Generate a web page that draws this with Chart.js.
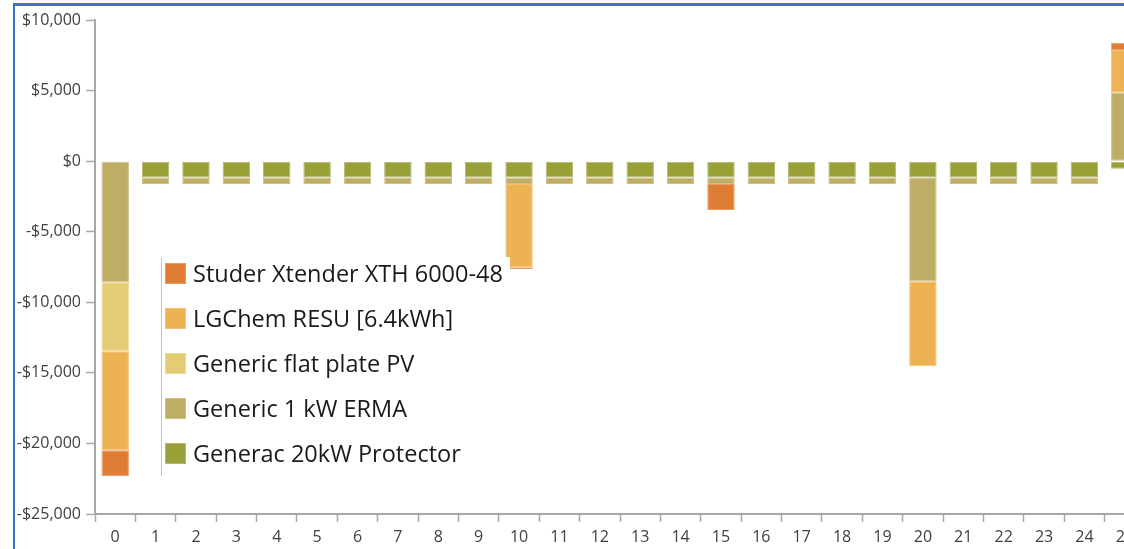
<!DOCTYPE html>
<html>
<head>
<meta charset="utf-8">
<script src="https://cdn.jsdelivr.net/npm/chart.js@4/dist/chart.umd.min.js"></script>
<style>
  html, body { margin: 0; padding: 0; background: #fff; overflow: hidden; width: 1124px; height: 549px; }
  #frame { position: absolute; left: 13px; top: 3px; width: 1200px; height: 600px;
           border-left: 2px solid #2b7bd0; border-top: 3px solid #2b7bd0; }
  #cashflow { position: absolute; left: 0; top: 0; }
</style>
</head>
<body>
<div id="frame"></div>
<canvas id="cashflow" width="1145" height="549"></canvas>
<script>
// Cash flow by component, per project year
const years = ["0","1","2","3","4","5","6","7","8","9","10","11","12",
               "13","14","15","16","17","18","19","20","21","22","23","24","25"];

const generac = [0, -1160, -1160, -1160, -1160, -1160, -1160, -1160, -1160, -1160,
                 -1160, -1160, -1160, -1160, -1160, -1160, -1160, -1160, -1160, -1160,
                 -1160, -1160, -1160, -1160, -1160, -540];
const erma = [-8580, -460, -460, -460, -460, -460, -460, -460, -460, -460,
              -460, -460, -460, -460, -460, -460, -460, -460, -460, -460,
              -7350, -460, -460, -460, -460, 4850];
const flatPV = [-4890, 0, 0, 0, 0, 0, 0, 0, 0, 0,
                0, 0, 0, 0, 0, 0, 0, 0, 0, 0,
                0, 0, 0, 0, 0, 0];
const lgchem = [-7020, 0, 0, 0, 0, 0, 0, 0, 0, 0,
                -5900, 0, 0, 0, 0, 0, 0, 0, 0, 0,
                -6020, 0, 0, 0, 0, 3020];
const studer = [-1840, 0, 0, 0, 0, 0, 0, 0, 0, 0,
                -130, 0, 0, 0, 0, -1840, 0, 0, 0, 0,
                0, 0, 0, 0, 0, 520];

const names = ["Generac 20kW Protector", "Generic 1 kW ERMA", "Generic flat plate PV",
               "LGChem RESU [6.4kWh]", "Studer Xtender XTH 6000-48"];
const colors = ["#98a037", "#bead64", "#e3cc74", "#edb251", "#e07d34"];
const edges  = ["#b4b86e", "#cfc08a", "#ebd994", "#f2c278", "#e89c64"];
const series = [generac, erma, flatPV, lgchem, studer];

// legend drawn inside the plot, on a white card with a rule on its left
const insideLegend = {
    id: "insideLegend",
    afterDatasetsDraw(chart) {
        const ctx = chart.ctx;
        const sets = chart.data.datasets;
        ctx.save();
        ctx.fillStyle = "#fff";
        ctx.fillRect(162, 257, 348, 222);
        ctx.strokeStyle = "#b7c3d6";
        ctx.lineWidth = 1;
        ctx.beginPath();
        ctx.moveTo(161.5, 258);
        ctx.lineTo(161.5, 476);
        ctx.stroke();
        ctx.font = "23.5px 'Open Sans'";
        ctx.textBaseline = "alphabetic";
        for (let i = 0; i < sets.length; i++) {
            const ds = sets[sets.length - 1 - i];
            const y = 264 + i * 45;
            ctx.fillStyle = ds.borderColor;
            ctx.fillRect(165, y - 1, 21, 21);
            ctx.fillStyle = ds.backgroundColor;
            ctx.fillRect(166, y, 19, 19);
            ctx.fillStyle = "#1a1a1a";
            ctx.fillText(ds.label, 193, y + 18);
        }
        ctx.restore();
    }
};

const axisGray = "#a8a8a8";
const tickFont = { family: "'Open Sans'", size: 16 };

new Chart(document.getElementById("cashflow").getContext("2d"), {
    type: "bar",
    data: {
        labels: years,
        datasets: series.map((vals, i) => ({
            label: names[i],
            data: vals,
            backgroundColor: colors[i],
            borderColor: edges[i],
            borderWidth: 1,
            borderSkipped: false,
            barPercentage: 0.68,
            categoryPercentage: 1
        }))
    },
    options: {
        responsive: false,
        animation: false,
        layout: { padding: { top: 20, left: 0, right: 0, bottom: 0 } },
        plugins: { legend: { display: false }, tooltip: { enabled: false } },
        scales: {
            x: {
                stacked: true,
                grid: { drawOnChartArea: false, drawTicks: true, tickLength: 8, tickColor: axisGray, tickWidth: 1.5 },
                border: { display: true, color: axisGray, width: 2 },
                ticks: { color: "#404040", font: tickFont, padding: 6, maxRotation: 0, autoSkip: false },
                afterFit(scale) { scale.height = 35; }
            },
            y: {
                stacked: true,
                min: -25000,
                max: 10000,
                grid: { drawOnChartArea: false, drawTicks: true, tickLength: 9, tickColor: axisGray, tickWidth: 1.5 },
                border: { display: true, color: axisGray, width: 2 },
                ticks: {
                    stepSize: 5000,
                    color: "#404040",
                    font: tickFont,
                    padding: 5,
                    callback: v => (v < 0 ? "-" : "") + "$" + Math.abs(v).toLocaleString("en-US")
                },
                afterFit(scale) { scale.width = 95; }
            }
        }
    },
    plugins: [insideLegend]
});
</script>
</body>
</html>
